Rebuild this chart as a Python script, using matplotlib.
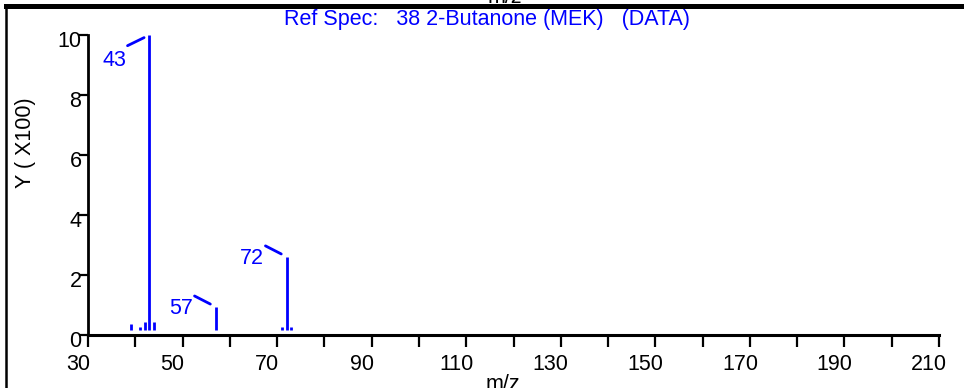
import matplotlib
matplotlib.use("Agg")
import matplotlib.pyplot as plt
from matplotlib.lines import Line2D
from matplotlib.transforms import ScaledTranslation

plt.rcParams['font.family'] = ['Liberation Sans', 'DejaVu Sans']

# stick spectrum, intensities in units of 100
mz = [39, 41, 42, 43, 44, 57, 71, 72, 73]
inten = [0.37, 0.27, 0.44, 10.0, 0.44, 0.94, 0.28, 2.61, 0.28]
lab_mz = [43, 57, 72]
lab_text = ["43", "57", "72"]
titel = "Ref Spec:   38 2-Butanone (MEK)   (DATA)"
xtick_major = list(range(30, 211, 20))
xtick_minor = list(range(40, 201, 20))
yticks = [0, 2, 4, 6, 8, 10]

kek = "#0000ff"
fs = 15.5
W, H = 964, 388

fig = plt.figure(figsize=(W / 100, H / 100), dpi=100)
ax = fig.add_axes([88 / W, 1 - 335 / H, (939 - 88) / W, 300 / H])

# sticks start a bit above the axis line
ax.vlines(mz, 0.18, inten, color=kek, lw=2.0)

# leader line + number for the main peaks
for m, t in zip(lab_mz, lab_text):
    y = inten[mz.index(m)]
    if y > 9:
        start, txt = (-15.8, -7.7), (-16.4, -18.0)
    else:
        start, txt = (-15.2, 7.8), (-16.2, -1.0)
    ax.annotate("", xy=(m, y), xytext=start, textcoords="offset points",
                arrowprops=dict(arrowstyle="-", color=kek, lw=2.0,
                                shrinkA=0, shrinkB=4.3))
    ax.annotate(t, xy=(m, y), xytext=txt, textcoords="offset points",
                ha="right", va="center", color=kek, fontsize=fs)

ax.set_xlim(30, 210)
ax.set_ylim(0, 10)
ax.set_xticks(xtick_major)
ax.set_xticks(xtick_minor, minor=True)
ax.set_yticks(yticks)
ax.spines["top"].set_visible(False)
ax.spines["right"].set_visible(False)
ax.spines["left"].set_linewidth(2.0)
ax.spines["bottom"].set_linewidth(2.2)
ax.tick_params(axis="x", which="both", direction="out", length=8.5,
               width=1.6, pad=5.5, labelsize=fs)
ax.tick_params(axis="y", direction="out", length=6.5, width=1.6,
               pad=-1.8, labelsize=fs)
# labels sit a little off their ticks
for lbl in ax.get_yticklabels():
    lbl.set_transform(lbl.get_transform() + ScaledTranslation(0, -4 / 100, fig.dpi_scale_trans))
for lbl in ax.get_xticklabels():
    lbl.set_transform(lbl.get_transform() + ScaledTranslation(-10 / 100, 0, fig.dpi_scale_trans))
ax.set_facecolor("none")

fig.text(486.5 / W, 1 - 20 / H, titel, color=kek, fontsize=fs,
         ha="center", va="center")
fig.text(25 / W, 1 - 142.5 / H, "Y ( X100)", rotation=90, fontsize=fs,
         ha="center", va="center")
fig.text(503 / W, -2 / H, "m/z", fontsize=fs, ha="center", va="baseline")
fig.text(505 / W, 1 - 3 / H, "m/z", fontsize=fs, ha="center", va="baseline")

# frame pieces at top and left
fig.add_artist(Line2D([6 / W, 1], [1 - 6 / H, 1 - 6 / H], color="black",
                      lw=3.6, transform=fig.transFigure))
fig.add_artist(Line2D([6 / W, 6 / W], [0, 1 - 6 / H], color="black",
                      lw=1.8, transform=fig.transFigure))

fig.savefig("out.png", dpi=100)
